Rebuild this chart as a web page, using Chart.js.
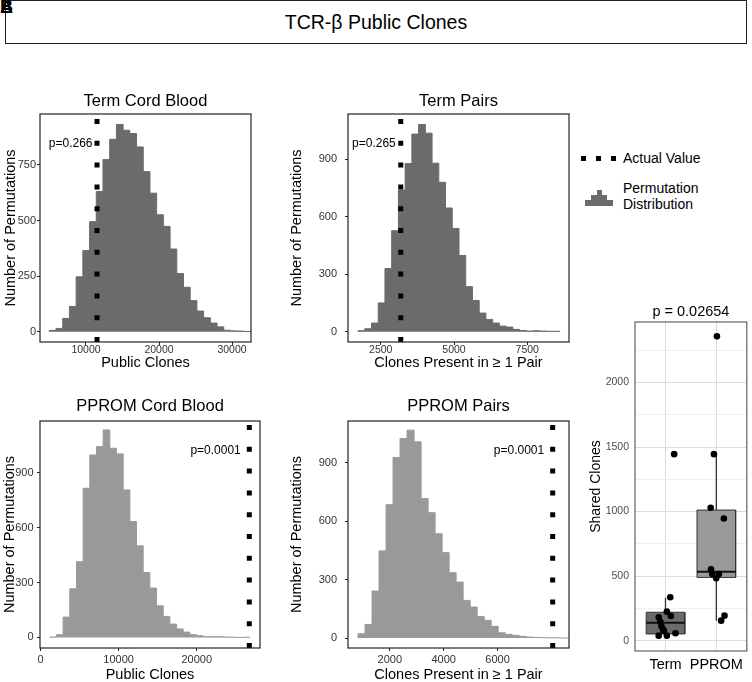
<!DOCTYPE html>
<html><head><meta charset="utf-8">
<script src="https://cdn.jsdelivr.net/npm/chart.js@4.4.1/dist/chart.umd.min.js"></script>
<style>
html,body{margin:0;padding:0;background:#fff;}
body{width:752px;height:682px;position:relative;overflow:hidden;font-family:'Liberation Sans',Arial,sans-serif;color:#000;}
canvas{position:absolute;}
#hdr{position:absolute;left:5px;top:0;width:742px;height:44px;border:1.3px solid #222;box-sizing:border-box;text-align:center;line-height:42px;font-size:19.5px;}
.lbl{position:absolute;left:0;top:-3px;font-weight:bold;font-size:18px;line-height:20px;}
.sq{position:absolute;width:4.5px;height:4.5px;background:#000;}
.lg{position:absolute;left:623px;font-size:14px;line-height:16px;white-space:nowrap;}
.ic{position:absolute;background:#6b6b6b;}
</style></head>
<body>
<div id="hdr">TCR-β Public Clones</div>
<div class="lbl">A</div><div class="lbl">B</div>

<div class="sq" style="left:581px;top:156px"></div>
<div class="sq" style="left:596px;top:156px"></div>
<div class="sq" style="left:611px;top:156px"></div>
<div class="lg" style="top:150px">Actual Value</div>
<div class="ic" style="left:585px;top:200px;width:28px;height:5.5px"></div>
<div class="ic" style="left:591px;top:194.5px;width:16px;height:6px"></div>
<div class="ic" style="left:597px;top:189.5px;width:5px;height:5.5px"></div>
<div class="lg" style="top:180px">Permutation</div>
<div class="lg" style="top:196px">Distribution</div>

<canvas id="cA" width="255" height="286" style="left:0;top:84px;width:255px;height:286px"></canvas>
<canvas id="cB" width="285" height="286" style="left:288px;top:84px;width:285px;height:286px"></canvas>
<canvas id="cC" width="264" height="291" style="left:0;top:391px;width:264px;height:291px"></canvas>
<canvas id="cD" width="285" height="291" style="left:288px;top:391px;width:285px;height:291px"></canvas>
<canvas id="cE" width="166" height="381" style="left:585px;top:295px;width:166px;height:381px"></canvas>

<script>
// ---------------- DATA ----------------
// Term Cord Blood
const termCbCounts = [6, 15, 60, 114, 247, 365, 495, 631, 774, 865, 932, 906, 891, 831, 720, 623, 526, 474, 372, 262, 200, 140, 93, 63, 39, 22, 7, 4, 3, 1];
const termCbBinStart = 4975, termCbBinWidth = 919;
const termCbActual = 11510;
const termCbXTicks = [10000, 20000, 30000];
const termCbYTicks = [0, 250, 500, 750];
const termCbXRange = [3700, 32600];
const termCbYRange = [-46, 979];
const termCbP = ['p=0.266', 844];

// Term Pairs
const termPairsCounts = [5, 15, 45, 150, 330, 527, 740, 878, 1032, 1082, 1037, 880, 780, 646, 539, 398, 235, 163, 97, 64, 45, 29, 24, 12, 6, 3, 5, 3, 2, 2];
const termPairsBinStart = 1725, termPairsBinWidth = 229.7;
const termPairsActual = 3183;
const termPairsXTicks = [2500, 5000, 7500];
const termPairsYTicks = [0, 300, 600, 900];
const termPairsXRange = [1383, 8924];
const termPairsYRange = [-54, 1137];
const termPairsP = ['p=0.265', 980];

// PPROM Cord Blood
const ppromCbCounts = [2, 15, 111, 266, 414, 816, 998, 1044, 1135, 1035, 1004, 807, 634, 501, 355, 270, 173, 115, 73, 46, 29, 15, 9, 4, 4, 4, 2, 1, 0, 1];
const ppromCbBinStart = 1190, ppromCbBinWidth = 854;
const ppromCbActual = 26730;
const ppromCbXTicks = [0, 10000, 20000];
const ppromCbYTicks = [0, 300, 600, 900];
const ppromCbXRange = [-60, 28100];
const ppromCbYRange = [-58, 1184];
const ppromCbP = ['p=0.0001', 1024];

// PPROM Pairs
const ppromPairsCounts = [22, 70, 241, 447, 684, 926, 1023, 1066, 1006, 715, 643, 535, 438, 335, 287, 193, 159, 111, 91, 60, 27, 19, 14, 9, 5, 3, 2, 1, 1, 0];
const ppromPairsBinStart = 822, ppromPairsBinWidth = 260;
const ppromPairsActual = 8045;
const ppromPairsXTicks = [2000, 4000, 6000];
const ppromPairsYTicks = [0, 300, 600, 900];
const ppromPairsXRange = [450, 8650];
const ppromPairsYRange = [-51, 1113];
const ppromPairsP = ['p=0.0001', 962];

// Shared clones box plot
const boxCats = ['Term', 'PPROM'];
const termShared = [1445, 336, 225, 191, 181, 147, 114, 88, 75, 57, 39, 39];
const termJitter = [0.171, 0.093, 0.027, 0.105, -0.134, -0.101, -0.082, -0.05, -0.03, 0.196, -0.134, 0.027];
const ppromShared = [2358, 1445, 1030, 947, 553, 516, 516, 483, 194, 155];
const ppromJitter = [0.012, -0.047, -0.111, 0.148, -0.105, -0.08, 0.05, -0.002, 0.161, 0.095];
// [lower whisker, Q1, median, Q3, upper whisker]
const termBox = [36, 52, 139, 220, 333];
const ppromBox = [155, 490, 534, 1012, 1445];
const boxYMajor = [0, 500, 1000, 1500, 2000];
const boxYMinor = [250, 750, 1250, 1750, 2250];
const boxYRange = [-80, 2469];
const boxP = 'p = 0.02654';

// ---------------- DRAWING ----------------
const FONT = "'Liberation Sans', Arial, sans-serif";
Chart.defaults.font.family = FONT;
Chart.defaults.color = '#000';

const decor = {
  id: 'decor',
  afterDatasetsDraw(chart, args, o) {
    const {ctx, chartArea: a} = chart;
    ctx.save();
    if (o.frame) {
      ctx.strokeStyle = o.frame; ctx.lineWidth = o.frameWidth || 1;
      ctx.strokeRect(a.left, a.top, a.right - a.left, a.bottom - a.top);
    }
    ctx.fillStyle = '#000';
    if (o.pText) {
      ctx.font = o.pSize + 'px ' + FONT;
      ctx.textAlign = 'right'; ctx.textBaseline = 'middle';
      ctx.fillText(o.pText, chart.scales.x.getPixelForValue(o.pX) - o.pOffset, chart.scales.y.getPixelForValue(o.pY));
    }
    if (o.title) {
      ctx.font = o.titleSize + 'px ' + FONT;
      ctx.textAlign = 'center'; ctx.textBaseline = 'middle';
      ctx.fillText(o.title, (a.left + a.right) / 2, a.top - o.titleGap);
    }
    ctx.restore();
  }
};

function histPoints(start, width, counts) {
  const pts = [{x: start, y: 0}];
  counts.forEach((c, i) => pts.push({x: start + i * width, y: c}));
  pts.push({x: start + counts.length * width, y: counts[counts.length - 1]});
  pts.push({x: start + counts.length * width, y: 0});
  return pts;
}

function histChart(id, g, d) {
  new Chart(document.getElementById(id), {
    type: 'line',
    data: {datasets: [
      {data: [{x: d.actual, y: d.yRange[0]}, {x: d.actual, y: d.yRange[1]}],
       borderColor: '#000', borderWidth: 5, borderDash: [5, 16.8], borderCapStyle: 'butt',
       pointRadius: 0, fill: false},
      {data: histPoints(d.binStart, d.binWidth, d.counts), stepped: 'before',
       borderColor: d.color, backgroundColor: d.color, borderWidth: 1, pointRadius: 0, fill: 'origin'}
    ]},
    options: {
      responsive: false, animation: false, events: [], devicePixelRatio: 1,
      layout: {padding: {top: g.padTop, right: g.padRight, left: 0, bottom: 0}},
      plugins: {legend: {display: false}, tooltip: {enabled: false},
        decor: {frame: '#222', frameWidth: 1.2, pText: d.p[0], pX: d.actual, pY: d.p[1], pOffset: g.pOffset, pSize: 12,
                title: d.title, titleSize: 16.5, titleGap: g.titleGap}},
      scales: {
        x: {type: 'linear', min: d.xRange[0], max: d.xRange[1],
            afterBuildTicks: s => { s.ticks = d.xTicks.map(v => ({value: v})); },
            afterFit: s => { s.height = g.H; },
            grid: {drawOnChartArea: false, drawTicks: true, tickLength: 3, tickColor: '#222'},
            border: {display: false},
            ticks: {font: {size: g.xTickSize, lineHeight: 1}, color: '#333', padding: g.xTickPad, maxRotation: 0, autoSkip: false, callback: v => String(v)},
            title: {display: true, text: d.xTitle, font: {size: 14.5, lineHeight: 1}, padding: {top: 0, bottom: 0}, color: '#000'}},
        y: {type: 'linear', min: d.yRange[0], max: d.yRange[1],
            afterBuildTicks: s => { s.ticks = d.yTicks.map(v => ({value: v})); },
            afterFit: s => { s.width = g.W; },
            grid: {drawOnChartArea: false, drawTicks: true, tickLength: 3, tickColor: '#222'},
            border: {display: false},
            ticks: {font: {size: 11, lineHeight: 1}, color: '#333', padding: g.yTickPad, autoSkip: false, callback: v => String(v)},
            title: {display: true, text: 'Number of Permutations', font: {size: 14.5, lineHeight: 1}, padding: {top: g.yTitlePad, bottom: 0}, color: '#000'}}
      }
    },
    plugins: [decor]
  });
}

const DARK = '#6b6b6b', LIGHT = '#999999';

histChart('cA', {padTop: 30, padRight: 4, W: 40, H: 28, xTickSize: 10.5, xTickPad: 0, yTickPad: 1, yTitlePad: 3.5, pOffset: 4.5, titleGap: 13},
  {counts: termCbCounts, binStart: termCbBinStart, binWidth: termCbBinWidth, actual: termCbActual, xTicks: termCbXTicks, yTicks: termCbYTicks,
   xRange: termCbXRange, yRange: termCbYRange, p: termCbP, color: DARK, title: 'Term Cord Blood', xTitle: 'Public Clones'});
histChart('cB', {padTop: 30, padRight: 4, W: 60, H: 28, xTickSize: 10.5, xTickPad: 0, yTickPad: 8, yTitlePad: 1.75, pOffset: 5, titleGap: 13},
  {counts: termPairsCounts, binStart: termPairsBinStart, binWidth: termPairsBinWidth, actual: termPairsActual, xTicks: termPairsXTicks, yTicks: termPairsYTicks,
   xRange: termPairsXRange, yRange: termPairsYRange, p: termPairsP, color: DARK, title: 'Term Pairs', xTitle: 'Clones Present in \u2265 1 Pair'});
histChart('cC', {padTop: 30, padRight: 4, W: 40, H: 34, xTickSize: 11, xTickPad: 3, yTickPad: 3.5, yTitlePad: 2.75, pOffset: 8.5, titleGap: 15},
  {counts: ppromCbCounts, binStart: ppromCbBinStart, binWidth: ppromCbBinWidth, actual: ppromCbActual, xTicks: ppromCbXTicks, yTicks: ppromCbYTicks,
   xRange: ppromCbXRange, yRange: ppromCbYRange, p: ppromCbP, color: LIGHT, title: 'PPROM Cord Blood', xTitle: 'Public Clones'});
histChart('cD', {padTop: 30, padRight: 4, W: 60, H: 34, xTickSize: 11, xTickPad: 3, yTickPad: 8, yTitlePad: 1.75, pOffset: 8.5, titleGap: 15},
  {counts: ppromPairsCounts, binStart: ppromPairsBinStart, binWidth: ppromPairsBinWidth, actual: ppromPairsActual, xTicks: ppromPairsXTicks, yTicks: ppromPairsYTicks,
   xRange: ppromPairsXRange, yRange: ppromPairsYRange, p: ppromPairsP, color: LIGHT, title: 'PPROM Pairs', xTitle: 'Clones Present in \u2265 1 Pair'});

// ---- box plot ----
const HW = 0.38;
function boxShape(c, b) {
  return [{x: c - HW, y: b[1]}, {x: c - HW, y: b[3]}, {x: c + HW, y: b[3]}, {x: c + HW, y: b[1]}, {x: c - HW, y: b[1]}];
}
function whisk(c, b) {
  return [{x: c, y: b[0]}, {x: c, y: b[1]}, {x: c, y: null}, {x: c, y: b[3]}, {x: c, y: b[4]}];
}
const pts = termShared.map((v, i) => ({x: 1 + termJitter[i], y: v}))
  .concat(ppromShared.map((v, i) => ({x: 2 + ppromJitter[i], y: v})));
const allYTicks = boxYMajor.concat(boxYMinor).sort((a, b) => a - b);

new Chart(document.getElementById('cE'), {
  type: 'line',
  data: {datasets: [
    {data: pts, showLine: false, pointRadius: 3.3, pointBackgroundColor: '#000', pointBorderWidth: 0},
    {data: [{x: 1 - HW, y: termBox[2]}, {x: 1 + HW, y: termBox[2]}], borderColor: '#111', borderWidth: 2.2, pointRadius: 0, fill: false},
    {data: [{x: 2 - HW, y: ppromBox[2]}, {x: 2 + HW, y: ppromBox[2]}], borderColor: '#111', borderWidth: 2.2, pointRadius: 0, fill: false},
    {data: boxShape(1, termBox), borderColor: '#333', borderWidth: 1, backgroundColor: DARK, pointRadius: 0, fill: 'shape', borderJoinStyle: 'miter'},
    {data: boxShape(2, ppromBox), borderColor: '#333', borderWidth: 1, backgroundColor: LIGHT, pointRadius: 0, fill: 'shape', borderJoinStyle: 'miter'},
    {data: whisk(1, termBox), borderColor: '#333', borderWidth: 1.3, pointRadius: 0, fill: false, spanGaps: false},
    {data: whisk(2, ppromBox), borderColor: '#333', borderWidth: 1.3, pointRadius: 0, fill: false, spanGaps: false}
  ]},
  options: {
    responsive: false, animation: false, events: [], devicePixelRatio: 1,
    layout: {padding: {top: 27, right: 3, left: 0, bottom: 0}},
    plugins: {legend: {display: false}, tooltip: {enabled: false},
      decor: {frame: '#444', frameWidth: 1, title: boxP, titleSize: 14.5, titleGap: 10}},
    scales: {
      x: {type: 'linear', min: 0.4, max: 2.6,
          afterBuildTicks: s => { s.ticks = boxCats.map((c, i) => ({value: i + 1})); },
          afterFit: s => { s.height = 25; },
          grid: {color: '#dcdcdc', lineWidth: 1, drawTicks: false},
          border: {display: false},
          ticks: {font: {size: 14.5, lineHeight: 1}, color: '#000', padding: 7, maxRotation: 0, autoSkip: false,
                  callback: v => boxCats[Math.round(v) - 1]}},
      y: {type: 'linear', min: boxYRange[0], max: boxYRange[1],
          afterBuildTicks: s => { s.ticks = allYTicks.map(v => ({value: v})); },
          afterFit: s => { s.width = 50; },
          grid: {drawTicks: false, color: c => boxYMajor.includes(c.tick && c.tick.value) ? '#dcdcdc' : '#efefef', lineWidth: 1},
          border: {display: false},
          ticks: {font: {size: 10.5, lineHeight: 1}, color: '#4d4d4d', padding: 6, autoSkip: false,
                  callback: v => boxYMajor.includes(v) ? String(v) : ''},
          title: {display: true, text: 'Shared Clones', font: {size: 14, lineHeight: 1}, padding: {top: 4, bottom: 0}, color: '#000'}}
    }
  },
  plugins: [decor]
});
</script>
</body></html>
